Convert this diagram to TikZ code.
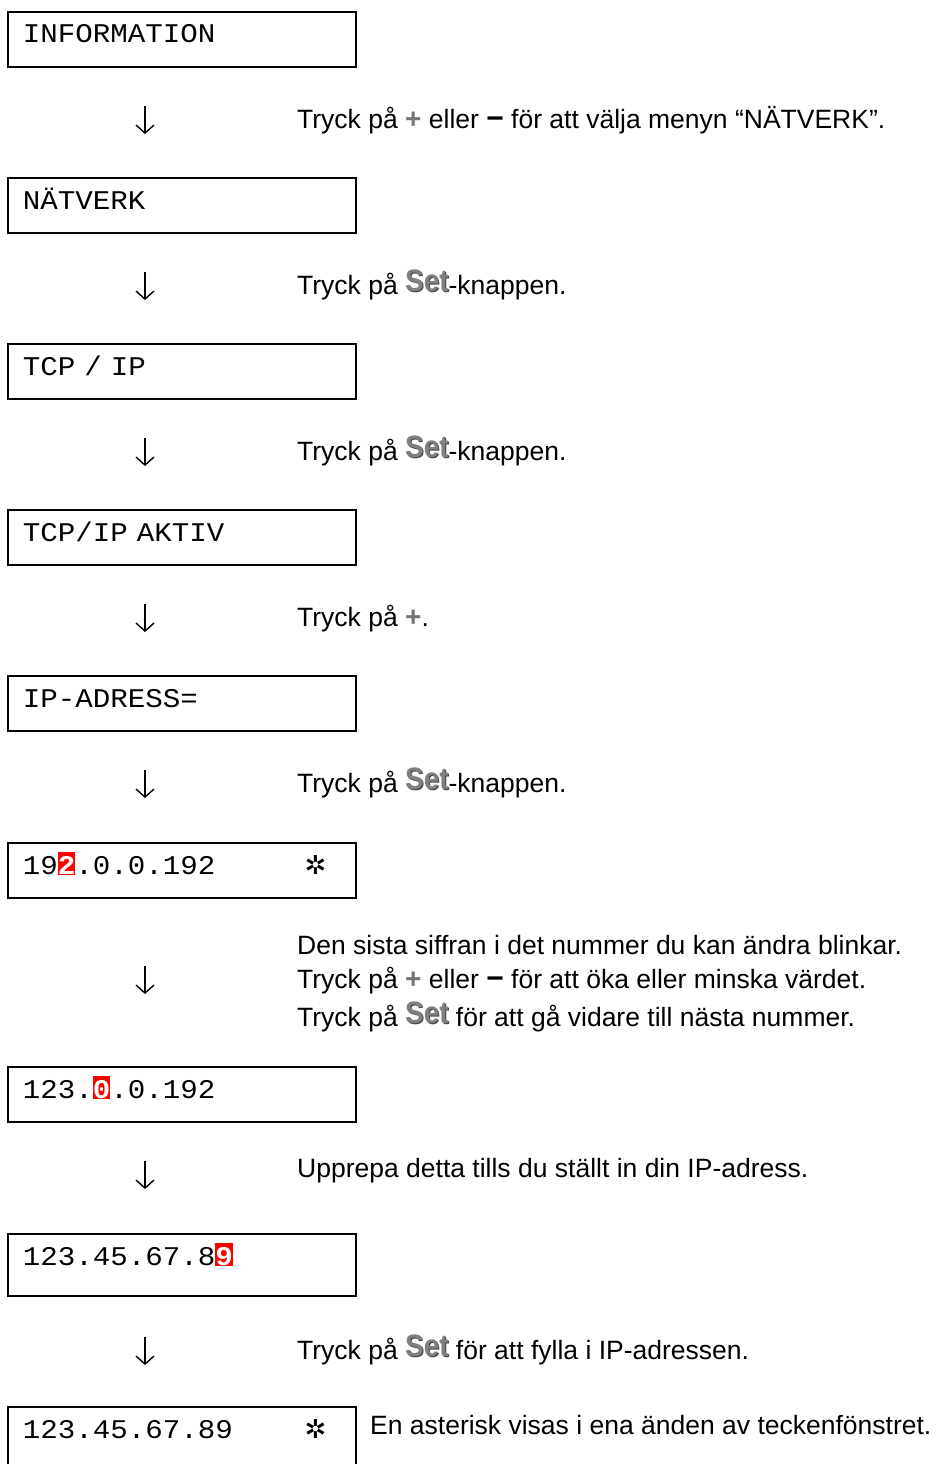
\documentclass[tikz,border=0pt]{standalone}
\usepackage{fontspec}
\setmainfont{Liberation Sans}
\newfontfamily\lcdfont{Liberation Mono}[FakeStretch=1.08]
\newfontfamily\symfont{DejaVu Sans}
\usepackage{tikz}
\usetikzlibrary{positioning,arrows.meta}

\newcommand{\plusknapp}{\textcolor{black!55}{\fontsize{28}{28}\selectfont\bfseries+}}
\newcommand{\minusknapp}{{\fontsize{30}{30}\selectfont\bfseries\char"2212}}
\newcommand{\setknapp}{\raisebox{3pt}{\fontsize{31}{31}\selectfont\bfseries\addfontfeature{FakeStretch=0.9}%
  \rlap{\hspace{1pt}\raisebox{-1pt}{\textcolor{black!75}{Set}}}\textcolor{black!50}{Set}}}
\newcommand{\blink}[1]{{\setlength{\fboxsep}{0pt}\colorbox{red}{\rule[-1pt]{0pt}{23pt}\textcolor{white}{\bfseries #1}}}}

\begin{document}
\begin{tikzpicture}[x=1pt,y=-1pt,
  lcd/.style={draw,line width=2pt,anchor=north west,text width=318pt,align=left,
    inner xsep=15pt,inner ysep=0pt,text height=31pt,text depth=24pt,
    font=\lcdfont\fontsize{27}{27}\selectfont},
  hint/.style={anchor=base west,inner sep=0pt,font=\fontsize{26.5}{37}\selectfont},
  pil/.style={line width=1.4pt,-{Straight Barb[length=8pt,width=18pt]}},
  stjarna/.style={font=\symfont\bfseries\fontsize{26}{26}\selectfont,inner sep=0pt}]

\useasboundingbox (0,0) rectangle (935,1464);

% displays
\node[lcd] (info) at (7,11) {INFORMATION};
\node[lcd] (natverk) at (7,177) {NÄTVERK};
\node[lcd] (tcpip) at (7,343) {TCP / IP};
\node[lcd] (tcpaktiv) at (7,509) {TCP/IP AKTIV};
\node[lcd] (ipadr) at (7,675) {IP-ADRESS=};
\node[lcd] (ip1) at (7,842) {19\blink{2}.0.0.192};
\node[lcd] (ip2) at (7,1066) {123.\blink{0}.0.192};
\node[lcd,text depth=31pt] (ip3) at (7,1233) {123.45.67.8\blink{9}};
\node[lcd,text depth=40pt] (ip4) at (7,1406) {123.45.67.89};

\node[stjarna] (ast1) at ([xshift=-41.5pt,yshift=8.5pt]ip1.base east) {✲};
\node[stjarna] (ast2) at ([xshift=-41.5pt,yshift=9pt]ip4.base east) {✲};

% instructions
\node[hint] (t1) at (297,128.5) {Tryck på \plusknapp{} eller \minusknapp{} för att välja menyn “NÄTVERK”.};
\node[hint] (t2) at (297,294.5) {Tryck på \setknapp-knappen.};
\node[hint] (t3) at (297,460.5) {Tryck på \setknapp-knappen.};
\node[hint] (t4) at (297,626.5) {Tryck på \plusknapp.};
\node[hint] (t5) at (297,792.5) {Tryck på \setknapp-knappen.};
\node[hint] (t6a) at (297,954) {Den sista siffran i det nummer du kan ändra blinkar.};
\node[hint] (t6b) at (297,988.5) {Tryck på \plusknapp{} eller \minusknapp{} för att öka eller minska värdet.};
\node[hint] (t6c) at (297,1026) {Tryck på \setknapp{} för att gå vidare till nästa nummer.};
\node[hint] (t7) at (297,1177.5) {Upprepa detta tills du ställt in din IP-adress.};
\node[hint] (t8) at (297,1359.5) {Tryck på \setknapp{} för att fylla i IP-adressen.};
\node[hint] (t9) at (370,1434) {En asterisk visas i ena änden av teckenfönstret.};

% arrows
\coordinate (a1) at (145,106); \coordinate (b1) at (145,134);
\coordinate (a2) at (145,272); \coordinate (b2) at (145,300);
\coordinate (a3) at (145,438); \coordinate (b3) at (145,466);
\coordinate (a4) at (145,604); \coordinate (b4) at (145,632);
\coordinate (a5) at (145,770); \coordinate (b5) at (145,798);
\coordinate (a6) at (145,966); \coordinate (b6) at (145,994);
\coordinate (a7) at (145,1161); \coordinate (b7) at (145,1189);
\coordinate (a8) at (145,1337); \coordinate (b8) at (145,1365);

\draw[pil] (a1) -- (b1);
\draw[pil] (a2) -- (b2);
\draw[pil] (a3) -- (b3);
\draw[pil] (a4) -- (b4);
\draw[pil] (a5) -- (b5);
\draw[pil] (a6) -- (b6);
\draw[pil] (a7) -- (b7);
\draw[pil] (a8) -- (b8);

\end{tikzpicture}
\end{document}
